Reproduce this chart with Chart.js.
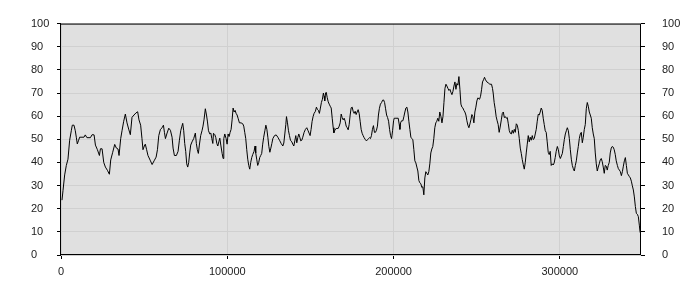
<!DOCTYPE html>
<html><head><meta charset="utf-8">
<script src="https://cdn.jsdelivr.net/npm/chart.js@4.4.0/dist/chart.umd.min.js"></script>
<style>html,body{margin:0;padding:0;background:#fff}</style>
</head><body>
<canvas id="c" width="700" height="300"></canvas>
<script>
// Tick labels
const xTickValues = [0, 100000, 200000, 300000];
const xAxisMax = 348800;
const yTickMin = 0, yTickMax = 100, yTickStep = 10;

// Series (x position, value)
const xs1 = [600,1200,2200,3200,4200,5200,6200,6800,7800,8600,
9200,9800,10600,11200,13800,14600,15600,17700,18700,19900,
20700,21900,23100,23700,24700,25700,26700,27900,29100,29900,
31100,32300,33300,34300,34900,35900,36700,37700,38700,39700,
40700,41700,42700,43900,45100,46100,46900,47900,48700];
const ys1 = [23.7,27.8,34.6,38.7,41.4,49.6,53.7,56.1,56.1,53.7,
50.9,48.0,49.6,50.9,50.9,51.9,50.7,50.7,52.0,51.9,
47.5,45.5,43.0,45.9,45.9,40.0,38.0,36.6,34.9,41.1,
44.4,47.8,46.2,45.8,43.0,50.3,53.7,57.8,60.9,57.1,
54.4,52.0,59.5,60.5,61.4,61.9,58.4,56.1,50.3];

const xs2 = [49300,50100,50700,51500,52300,53600,54800,56000,57200,58000,
58800,59800,60800,61600,62200,62800,63800,64800,65800,66800,
67400,68200,69400,70400,71200,72000,72600,73200,73800,74400,
75000,75600,76200,76800,77400,78000,78800,79800,80800,81400,
82000,82600,83200,84000,84800,85400,86000,86800,87500,88100,
88700,89500,90100,90700,91300,91700,92500,93100,93700,94300,
94900,95500,96100,96900,97500,97900,98500];
const ys2 = [45.5,47.1,47.9,45.5,43.0,41.0,39.1,40.7,42.3,45.5,
51.6,54.3,55.0,56.1,53.0,50.3,52.7,54.8,53.9,50.9,
46.2,43.0,43.0,44.8,49.6,53.7,55.4,56.9,53.7,48.2,
44.8,39.4,38.0,40.0,44.1,47.5,48.9,50.3,52.7,48.2,
45.5,43.9,47.5,51.6,53.7,55.7,58.4,63.2,60.5,57.5,
53.7,52.3,52.7,50.3,48.2,52.6,52.0,50.7,48.2,47.1,
48.9,50.5,47.5,43.9,41.7,50.3,52.3];

const xs3 = [99300,99900,100500,101100,101700,102300,102900,103500,104100,104700,
105300,105900,106500,107300,108300,109300,109900,110500,111100,111700,
112300,112900,113500,114100,114700,115300,116100,116700,117100,117700,
118300,118900,119500,120100,120700,121300,121900,122600,123200,123800,
124400,125000,125600,126200,126800,127400,128400,129400,130400,131400,
132400,133400,134000,134600,135200,135600,136200,136800,137400,138000,
138800,139400,140000,140600,141200,141800,142400,143000,143600,144200,
144800,145400,146200,147000,147800,148600,149400,149800];
const ys3 = [50.3,47.9,52.3,51.2,53.0,54.3,58.4,63.5,61.8,62.5,
61.2,60.5,59.1,57.1,57.1,56.7,55.7,53.0,50.3,45.5,
41.4,38.7,37.1,40.0,42.1,43.4,44.8,47.1,44.1,41.4,
38.7,40.0,42.1,43.0,43.9,47.9,50.9,53.7,56.1,54.3,
50.9,46.9,44.4,46.2,48.2,50.3,51.6,51.9,50.9,49.6,
48.2,47.1,48.4,52.3,56.4,59.8,57.1,53.7,51.6,49.6,
48.9,47.9,47.1,49.3,51.6,48.5,50.7,52.3,50.9,49.3,
49.6,50.9,53.0,54.3,55.0,53.7,52.3,51.6];

const xs4 = [150400,151000,151600,152200,153000,153600,154200,154800,155400,156000,
156600,157200,157800,158200,158600,159100,159500,160100,160700,161300,
161900,162500,163100,163700,164100,164700,165300,165900,166700,167300,
167900,168500,169100,169700,170300,170900,171500,172100,172700,173300,
173900,174500,175100,175700,176300,176900,177500,178100,178700,179300,
179900,180500,181100,181700,182300,183100,183700,184300,184900,185500,
186100,186700,187300,187900,188500,189100,189700,190300,190900,191500,
192100,192800,193400,194000,194600,195200,195800,196400,197000,197600,
198200,198800,199400,200000];
const ys4 = [54.3,57.7,59.8,61.2,62.1,63.9,62.9,62.5,61.2,63.5,
65.9,67.3,70.0,68.6,66.6,70.0,70.3,68.0,66.2,65.2,
64.3,63.5,59.1,55.0,52.8,53.9,54.6,54.7,54.7,55.7,
57.1,60.9,59.4,58.4,59.1,57.8,55.7,55.0,54.1,56.4,
60.5,63.6,63.9,62.1,61.2,62.1,60.7,61.8,62.8,61.2,
57.8,54.3,52.6,51.6,50.7,49.8,49.3,49.8,50.3,50.7,
50.3,51.6,54.3,55.9,53.0,53.0,53.9,55.7,60.5,63.4,
65.2,65.9,66.9,67.0,65.9,63.2,60.5,59.4,57.8,54.3,
51.6,50.3,53.7,58.0];

const xs5 = [200400,201400,202800,203400,203800,204200,204800,205600,206200,206800,
207400,208000,208600,209200,209800,210400,211000,211600,212200,212800,
213400,214000,214600,215200,215800,216400,217000,217600,218200,218800,
219400,220000,220600,221200,221800,222400,223000,223600,224200,224800,
225400,226000,226600,227200,227800,228500,229100,229700,230300,230900,
231500,232100,232700,233300,233900,234500,235100,235700,236300,236900,
237500,238100,238700,239300,239900,240500,241100,241700,242300,242900,
243500,244100,244700,245300,245900,246500,247100,247700,248300,248900,
249500,250100,250700];
const ys5 = [59.1,59.1,59.1,56.4,54.3,57.1,58.0,58.0,59.8,61.8,
63.5,63.9,61.8,57.8,54.3,50.9,50.3,49.8,45.5,40.7,
39.8,38.0,36.3,32.2,31.2,30.8,29.2,29.5,26.0,33.3,
36.0,35.3,34.6,36.0,39.4,44.1,45.8,46.9,50.3,55.0,
57.1,57.8,59.1,57.8,61.8,59.8,57.1,59.8,65.9,72.0,
73.8,73.0,72.0,71.1,71.6,70.3,69.3,70.7,73.0,74.8,
71.6,74.1,73.4,77.1,71.6,65.2,63.9,63.5,62.5,61.8,
60.5,58.0,56.1,55.0,56.6,58.4,60.7,59.8,57.1,61.8,
63.9,66.6,67.9];

const xs6 = [251700,252300,252900,253500,254100,254700,255300,256100,256900,257900,
258900,259500,259900,260500,261100,261700,262300,262900,263500,264100,
264800,265400,266000,266600,267200,267800,268400,269000,269600,270200,
270800,271400,272000,272600,273200,273800,274400,275000,275600,276200,
276800,277400,278000,278600,279200,279800,280400,281000,281600,282200,
282800,283400,284000,284600,285200,285800,286400,287000,287600,288200,
288800,289400,290000,290600,291200,291800,292400,293000,293600,294200,
294800,295400,296000,296600,297200,297800,298500,299100,299700,300300,
300900];
const ys6 = [67.3,68.6,71.4,74.8,75.7,76.8,75.7,74.8,74.4,73.8,
73.8,72.0,70.0,65.9,63.2,59.8,58.0,56.4,53.0,55.3,
58.4,61.2,61.8,59.4,59.8,59.1,59.4,56.7,53.7,52.6,
52.3,53.9,52.6,54.3,53.0,56.7,56.1,53.9,50.3,46.2,
43.9,41.2,39.0,37.1,40.0,44.1,47.9,51.6,48.9,50.9,
49.6,51.6,49.9,50.3,52.3,54.3,57.8,60.8,60.5,61.8,
63.5,62.5,59.1,56.4,53.7,53.0,48.9,44.4,43.4,44.8,
38.7,39.4,38.9,39.8,42.1,44.8,46.9,45.5,42.8,41.7,
42.8];

const xs7 = [301500,302100,302700,303300,303900,304500,305100,305700,306300,306900,
307500,308100,308700,309300,309900,310500,311100,311700,312300,312900,
313500,314100,314700,315300,315900,316500,317100,317700,318300,318900,
319500,320100,320700,321300,321900,322500,323100,323700,324300,324900,
325500,326100,326700,327300,327900,328500,329100,329700,330300,330900,
331500,332100,332700,333300,333900,334600,335200,335800,336400,337000,
337600,338200,338800,339400,340000,340600,341200,341800,342400,343000,
343600,344200,344800,345400,346000,346600,347200,347800,348200,348600];
const ys7 = [43.9,46.9,49.9,52.3,53.7,55.0,53.7,50.3,45.5,41.4,
38.7,37.3,36.3,38.7,40.7,44.1,46.9,50.3,52.3,53.0,
48.5,50.9,54.3,56.4,63.2,65.9,64.3,61.8,60.5,59.1,
55.0,52.3,50.3,44.1,39.4,36.3,38.0,39.4,41.1,41.7,
40.3,38.0,35.3,38.7,38.4,36.7,38.7,40.0,44.1,46.2,
46.9,46.6,45.5,43.5,40.7,38.7,37.3,36.7,36.0,34.3,
36.0,38.4,40.7,42.1,38.7,35.3,34.6,33.9,33.3,31.9,
29.9,28.1,25.1,21.0,18.0,17.6,16.6,12.9,10.1,9.2];

const xsAll = [].concat(xs1, xs2, xs3, xs4, xs5, xs6, xs7);
const ysAll = [].concat(ys1, ys2, ys3, ys4, ys5, ys6, ys7);
const points = xsAll.map((x, i) => ({ x: x, y: ysAll[i] }));

const FONT = { family: 'Liberation Sans', size: 11 };
const TXT = '#222';

const framePlugin = {
  id: 'frame',
  beforeDraw(chart) {
    const { ctx, chartArea: a } = chart;
    ctx.save();
    ctx.fillStyle = '#e0e0e0';
    ctx.fillRect(a.left, a.top, a.right - a.left, a.bottom - a.top);
    ctx.restore();
  },
  afterDraw(chart) {
    const { ctx, chartArea: a } = chart;
    ctx.save();
    ctx.strokeStyle = '#000';
    ctx.lineWidth = 1;
    ctx.strokeRect(a.left - 0.5, a.top + 0.5, a.right - a.left, a.bottom - a.top - 1);
    ctx.restore();
  }
};

new Chart(document.getElementById('c'), {
  type: 'line',
  data: {
    datasets: [{
      data: points,
      borderColor: '#000',
      borderWidth: 1,
      pointRadius: 0,
      tension: 0,
      fill: false
    }]
  },
  options: {
    responsive: false,
    animation: false,
    devicePixelRatio: 1,
    layout: { padding: { left: 31, top: 10, right: 0, bottom: 0 } },
    plugins: { legend: { display: false }, tooltip: { enabled: false } },
    scales: {
      x: {
        type: 'linear',
        min: 0,
        max: xAxisMax,
        afterBuildTicks: s => { s.ticks = xTickValues.map(v => ({ value: v })); },
        afterFit: s => { s.height = 45; },
        grid: { color: '#d0d0d0', tickColor: '#000', tickLength: 4 },
        border: { display: false },
        ticks: { font: FONT, color: TXT, padding: 6, maxRotation: 0, autoSkip: false, callback: v => String(v) }
      },
      y: {
        position: 'left',
        min: yTickMin, max: yTickMax,
        afterFit: s => { s.width = 30; },
        grid: { color: '#d0d0d0', tickColor: '#000', tickLength: 4 },
        border: { display: false },
        ticks: { stepSize: yTickStep, font: FONT, color: TXT, crossAlign: 'far', padding: 4 }
      },
      y2: {
        position: 'right',
        min: yTickMin, max: yTickMax,
        afterFit: s => { s.width = 59; },
        grid: { drawOnChartArea: false, tickColor: '#000', tickLength: 4 },
        border: { display: false },
        ticks: { stepSize: yTickStep, font: FONT, color: TXT, padding: 17 }
      }
    }
  },
  plugins: [framePlugin]
});
</script>
</body></html>
